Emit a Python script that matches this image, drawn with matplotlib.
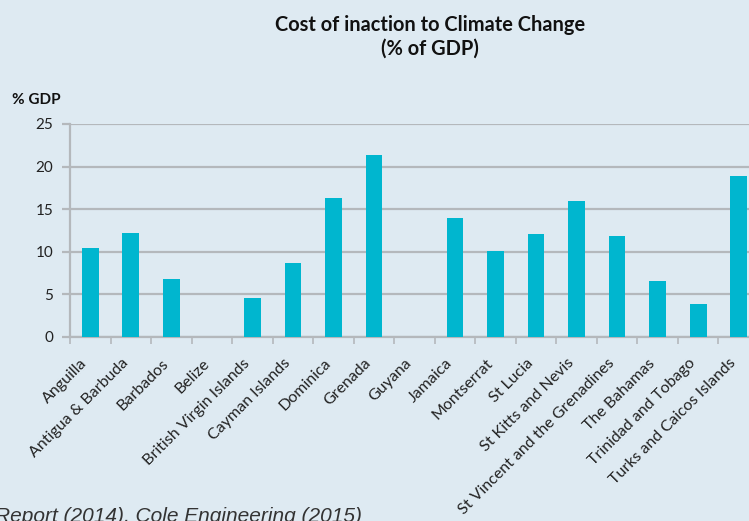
import numpy as np
import matplotlib.pyplot as plt

countries = ['Anguilla', 'Antigua & Barbuda', 'Barbados', 'Belize',
             'British Virgin Islands', 'Cayman Islands', 'Dominica', 'Grenada',
             'Guyana', 'Jamaica', 'Montserrat', 'St Lucia', 'St Kitts and Nevis',
             'St Vincent and the Grenadines', 'The Bahamas', 'Trinidad and Tobago',
             'Turks and Caicos Islands']
cost_pct_gdp = [10.4, 12.2, 6.8, 0, 4.5, 8.7, 16.3, 21.3, 0, 13.9, 10.1, 12.1,
                15.9, 11.8, 6.6, 3.9, 18.9]
y_ticks = [0, 5, 10, 15, 20, 25]

BG = '#deeaf2'
BAR = '#00b6cf'
GRID = '#b4b8bc'

plt.rcParams['font.family'] = ['Lato', 'DejaVu Sans']

fig = plt.figure(figsize=(7.49, 5.21), dpi=100, facecolor=BG)
ax = fig.add_axes([70 / 749, 184.3 / 521, 689 / 749, 212.7 / 521])
ax.set_facecolor(BG)

x = np.arange(len(countries))
ax.bar(x, cost_pct_gdp, width=0.41, color=BAR, zorder=3)

ax.set_xlim(-0.5, len(countries) - 0.5)
ax.set_ylim(0, 25)
ax.set_yticks(y_ticks)
ax.set_yticklabels([str(t) for t in y_ticks], fontsize=11, color='#222222')
ax.yaxis.grid(True, color=GRID, linewidth=1.6, zorder=0)

ax.set_xticks(x)
ax.set_xticklabels(countries, rotation=45, ha='right', fontsize=11.5,
                   color='#222222')
ax.set_xticks(np.arange(len(countries) + 1) - 0.5, minor=True)
ax.tick_params(axis='x', which='major', length=0, pad=14)
ax.tick_params(axis='x', which='minor', length=5, color=GRID, width=1.2)
ax.tick_params(axis='y', length=6, color=GRID, width=1.6, pad=6)

for side in ['top', 'right']:
    ax.spines[side].set_visible(False)
ax.spines['left'].set_color(GRID)
ax.spines['left'].set_linewidth(1.6)
ax.spines['bottom'].set_color(GRID)
ax.spines['bottom'].set_linewidth(1.6)

fig.text(430 / 749, 1 - 37 / 521, 'Cost of inaction to Climate Change\n(% of GDP)',
         ha='center', va='center', fontsize=14.4, fontweight='bold',
         color='#111111', linespacing=1.25)
fig.text(12 / 749, 1 - 100 / 521, '% GDP', ha='left', va='center',
         fontsize=11, fontweight='bold', color='#111111')
fig.text(-5 / 749, 1 - 507 / 521, 'Report (2014), Cole Engineering (2015)',
         ha='left', va='top', fontsize=15, style='italic', color='#333333',
         family='Liberation Sans')

fig.savefig('out.png', dpi=100, facecolor=BG)
